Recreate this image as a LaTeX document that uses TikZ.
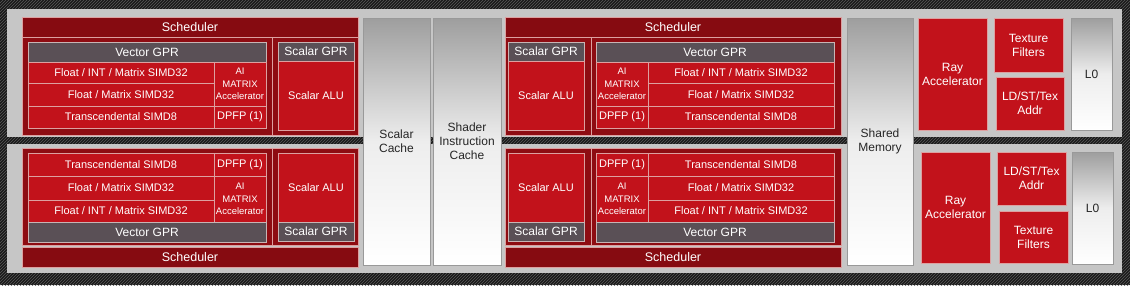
\documentclass[tikz,border=0pt]{standalone}
\usepackage{fontspec}
\setmainfont{Liberation Sans}
\usetikzlibrary{patterns}

\definecolor{schedRed}{HTML}{860B11}
\definecolor{bodyRed}{HTML}{8E0C12}
\definecolor{simdRed}{HTML}{C2121B}
\definecolor{lineRed}{HTML}{DDA0A0}
\definecolor{gprGray}{HTML}{5A5056}
\definecolor{lineGray}{HTML}{C8B4B4}
\definecolor{panelGray}{HTML}{C6C6C6}

\begin{document}
\begin{tikzpicture}[
  x=1pt, y=-1pt,
  every node/.style={inner sep=0pt, outer sep=0pt, anchor=north west, align=center},
  panel/.style={fill=panelGray},
  schedbar/.style={draw=lineRed, fill=schedRed, line width=0.8pt, text=white, font=\fontsize{12.5}{14}\selectfont},
  corebody/.style={draw=lineRed, fill=bodyRed, line width=0.8pt},
  gprbar/.style={draw=lineGray, fill=gprGray, line width=0.8pt, text=white, font=\fontsize{12}{14}\selectfont},
  simdbox/.style={draw=lineRed, fill=simdRed, line width=0.8pt, text=white, font=\fontsize{11}{13}\selectfont},
  aibox/.style={simdbox, font=\fontsize{9.5}{12.5}\selectfont},
  fixbox/.style={simdbox, font=\fontsize{12}{14}\selectfont},
  cachebox/.style={draw=black!40, line width=0.8pt, top color=black!38, bottom color=white, middle color=black!7, text=black!85, font=\fontsize{12}{14}\selectfont}]

  % frame
  \useasboundingbox (0,0) rectangle (1130,285);
  \fill[black!90] (0,0) rectangle (1130,285);
  \fill[pattern=north east lines, pattern color=black!65] (0,0) rectangle (1130,285);
  \node[panel, minimum width=1115pt, minimum height=128pt] (topPanel) at (7,9) {};
  \node[panel, minimum width=1115pt, minimum height=129pt] (botPanel) at (7,144) {};

  %% ---------------- top left compute unit ----------------
  \node[schedbar, minimum width=336pt, minimum height=20pt] (tlSched) at (22,17) {Scheduler};
  \node[corebody, minimum width=250pt, minimum height=98pt] (tlBodyV) at (22,37) {};
  \node[corebody, minimum width=86pt, minimum height=98pt] (tlBodyS) at (272,37) {};
  \node[gprbar, minimum width=238pt, minimum height=20pt] (tlVgpr) at (28,42) {Vector GPR};
  \node[simdbox, minimum width=186pt, minimum height=21pt] (tlF1) at (28,62) {Float / INT / Matrix SIMD32};
  \node[simdbox, minimum width=186pt, minimum height=23pt] (tlF2) at (28,83) {Float / Matrix SIMD32};
  \node[simdbox, minimum width=186pt, minimum height=22pt] (tlTr) at (28,106) {Transcendental SIMD8};
  \node[aibox, minimum width=52pt, minimum height=44pt] (tlAi) at (214,62) {AI\\MATRIX\\Accelerator};
  \node[simdbox, minimum width=52pt, minimum height=22pt] (tlDp) at (214,106) {DPFP (1)};
  \node[gprbar, minimum width=76pt, minimum height=19pt] (tlSgpr) at (278,42) {Scalar GPR};
  \node[simdbox, minimum width=76pt, minimum height=69pt] (tlSalu) at (278,61) {Scalar ALU};

  %% ---------------- bottom left compute unit ----------------
  \node[corebody, minimum width=250pt, minimum height=97pt] (blBodyV) at (22,148) {};
  \node[corebody, minimum width=86pt, minimum height=97pt] (blBodyS) at (272,148) {};
  \node[simdbox, minimum width=186pt, minimum height=23pt] (blTr) at (28,153) {Transcendental SIMD8};
  \node[simdbox, minimum width=52pt, minimum height=23pt] (blDp) at (214,153) {DPFP (1)};
  \node[simdbox, minimum width=186pt, minimum height=24pt] (blF2) at (28,176) {Float / Matrix SIMD32};
  \node[simdbox, minimum width=186pt, minimum height=22pt] (blF1) at (28,200) {Float / INT / Matrix SIMD32};
  \node[aibox, minimum width=52pt, minimum height=46pt] (blAi) at (214,176) {AI\\MATRIX\\Accelerator};
  \node[gprbar, minimum width=238pt, minimum height=20pt] (blVgpr) at (28,222) {Vector GPR};
  \node[simdbox, minimum width=76pt, minimum height=69pt] (blSalu) at (278,153) {Scalar ALU};
  \node[gprbar, minimum width=76pt, minimum height=19pt] (blSgpr) at (278,222) {Scalar GPR};
  \node[schedbar, minimum width=336pt, minimum height=20pt] (blSched) at (22,247) {Scheduler};

  %% ---------------- shared caches ----------------
  \node[cachebox, minimum width=67pt, minimum height=247pt] (sCache) at (363,18) {Scalar\\Cache};
  \node[cachebox, minimum width=68pt, minimum height=247pt] (iCache) at (433,18) {Shader\\Instruction\\Cache};

  %% ---------------- top right compute unit ----------------
  \node[schedbar, minimum width=336pt, minimum height=20pt] (trSched) at (505,17) {Scheduler};
  \node[corebody, minimum width=86pt, minimum height=98pt] (trBodyS) at (505,37) {};
  \node[corebody, minimum width=250pt, minimum height=98pt] (trBodyV) at (591,37) {};
  \node[gprbar, minimum width=76pt, minimum height=19pt] (trSgpr) at (508,42) {Scalar GPR};
  \node[simdbox, minimum width=76pt, minimum height=69pt] (trSalu) at (508,61) {Scalar ALU};
  \node[gprbar, minimum width=238pt, minimum height=20pt] (trVgpr) at (596,42) {Vector GPR};
  \node[aibox, minimum width=52pt, minimum height=44pt] (trAi) at (596,62) {AI\\MATRIX\\Accelerator};
  \node[simdbox, minimum width=52pt, minimum height=22pt] (trDp) at (596,106) {DPFP (1)};
  \node[simdbox, minimum width=186pt, minimum height=21pt] (trF1) at (648,62) {Float / INT / Matrix SIMD32};
  \node[simdbox, minimum width=186pt, minimum height=23pt] (trF2) at (648,83) {Float / Matrix SIMD32};
  \node[simdbox, minimum width=186pt, minimum height=22pt] (trTr) at (648,106) {Transcendental SIMD8};

  %% ---------------- bottom right compute unit ----------------
  \node[corebody, minimum width=86pt, minimum height=97pt] (brBodyS) at (505,148) {};
  \node[corebody, minimum width=250pt, minimum height=97pt] (brBodyV) at (591,148) {};
  \node[simdbox, minimum width=76pt, minimum height=69pt] (brSalu) at (508,153) {Scalar ALU};
  \node[gprbar, minimum width=76pt, minimum height=19pt] (brSgpr) at (508,222) {Scalar GPR};
  \node[simdbox, minimum width=52pt, minimum height=23pt] (brDp) at (596,153) {DPFP (1)};
  \node[aibox, minimum width=52pt, minimum height=46pt] (brAi) at (596,176) {AI\\MATRIX\\Accelerator};
  \node[simdbox, minimum width=186pt, minimum height=23pt] (brTr) at (648,153) {Transcendental SIMD8};
  \node[simdbox, minimum width=186pt, minimum height=24pt] (brF2) at (648,176) {Float / Matrix SIMD32};
  \node[simdbox, minimum width=186pt, minimum height=22pt] (brF1) at (648,200) {Float / INT / Matrix SIMD32};
  \node[gprbar, minimum width=238pt, minimum height=20pt] (brVgpr) at (596,222) {Vector GPR};
  \node[schedbar, minimum width=336pt, minimum height=20pt] (brSched) at (505,247) {Scheduler};

  %% ---------------- shared memory and texture units ----------------
  \node[cachebox, minimum width=66pt, minimum height=247pt] (lds) at (847,18) {Shared\\Memory};
  % top half
  \node[fixbox, minimum width=69pt, minimum height=112pt] (tRay) at (918,18) {Ray\\Accelerator};
  \node[fixbox, minimum width=69pt, minimum height=54pt] (tTex) at (994,18) {Texture\\Filters};
  \node[fixbox, minimum width=68pt, minimum height=53pt] (tLdst) at (996,77) {LD/ST/Tex\\Addr};
  \node[cachebox, minimum width=41pt, minimum height=112pt] (tL0) at (1071,18) {L0};
  % bottom half
  \node[fixbox, minimum width=69pt, minimum height=111pt] (bRay) at (921,152) {Ray\\Accelerator};
  \node[fixbox, minimum width=69pt, minimum height=53pt] (bLdst) at (997,152) {LD/ST/Tex\\Addr};
  \node[fixbox, minimum width=69pt, minimum height=52pt] (bTex) at (999,211) {Texture\\Filters};
  \node[cachebox, minimum width=41pt, minimum height=112pt] (bL0) at (1072,152) {L0};

\end{tikzpicture}
\end{document}
